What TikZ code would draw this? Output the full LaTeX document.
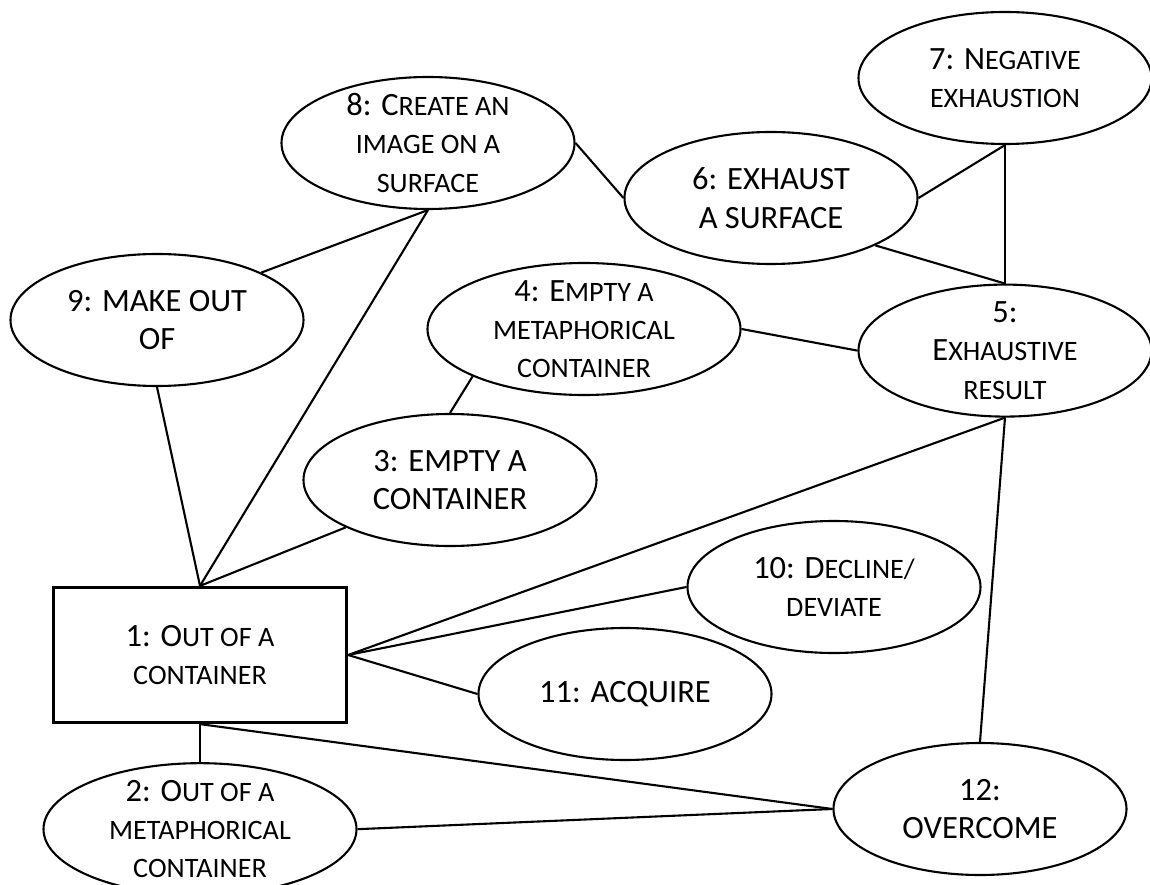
\documentclass[tikz,border=0pt]{standalone}
\usepackage{fontspec}
\setmainfont{Carlito}
\usetikzlibrary{shapes.geometric, positioning}
\newcommand{\smcap}[1]{{\fontsize{16}{21.6}\selectfont\MakeUppercase{#1}}}

\begin{document}
\begin{tikzpicture}[line width=0.42mm,
  sense/.style={draw, ellipse, inner sep=-1cm, minimum width=5.86cm, minimum height=2.64cm, align=center, font=\fontsize{18.5}{21.8}\selectfont},
  widesense/.style={sense, minimum width=6.26cm},
  core/.style={draw, rectangle, line width=0.65mm, minimum width=5.86cm, minimum height=2.7cm, align=center, font=\fontsize{18.5}{21.8}\selectfont}]

\useasboundingbox (0,0) rectangle (23,-17.7);

% Central sense and its neighbours
\node (n1) [core] at (4.0,-13.1) {1: O\smcap{ut of a}\\\smcap{container}};
\node (n2) [widesense, below=0.76cm of n1] {2: O\smcap{ut of a}\\\smcap{metaphorical}\\\smcap{container}};
\node (n3) [sense] at (9.0,-9.6) {3: EMPTY A\\CONTAINER};
\node (n4) [widesense] at (11.68,-6.58) {4: E\smcap{mpty a}\\\smcap{metaphorical}\\\smcap{container}};
\node (n9) [sense] at (3.14,-6.4) {9: MAKE OUT\\OF};
\node (n8) [sense] at (8.56,-2.86) {8: C\smcap{reate an}\\\smcap{image on a}\\\smcap{surface}};

% Exhaustion senses
\node (n6) [sense] at (15.42,-3.96) {6: EXHAUST\\A SURFACE};
\node (n7) [sense] at (20.1,-1.56) {7: N\smcap{egative}\\\smcap{exhaustion}};
\node (n5) [sense, below=2.77cm of n7] {5:\\E\smcap{xhaustive}\\\smcap{result}};

% Lower right senses
\node (n10) [sense] at (16.68,-11.74) {10: D\smcap{ecline/}\\\smcap{deviate}};
\node (n11) [sense] at (12.5,-13.88) {11: ACQUIRE};
\node (n12) [sense] at (19.6,-16.18) {12:\\OVERCOME};

% Links
\draw (n8.east) -- (n6.west);
\draw (n6.east) -- (n7.south);
\draw (n7.south) -- (n5.north);
\draw (n6.south east) -- (n5.north);
\draw (n8.south) -- (n9.north east);
\draw (n8.south) -- (n1.north);
\draw (n9.south) -- (n1.north);
\draw (n4.south west) -- (n3.north);
\draw (n4.east) -- (n5.west);
\draw (n3.south west) -- (n1.north);
\draw (n1.east) -- (n5.south);
\draw (n1.east) -- (n10.west);
\draw (n1.east) -- (n11.west);
\draw (n1.south) -- (n2.north);
\draw (n1.south) -- (n12.west);
\draw (n2.east) -- (n12.west);
\draw (n5.south) -- (n12.north);
\end{tikzpicture}
\end{document}
